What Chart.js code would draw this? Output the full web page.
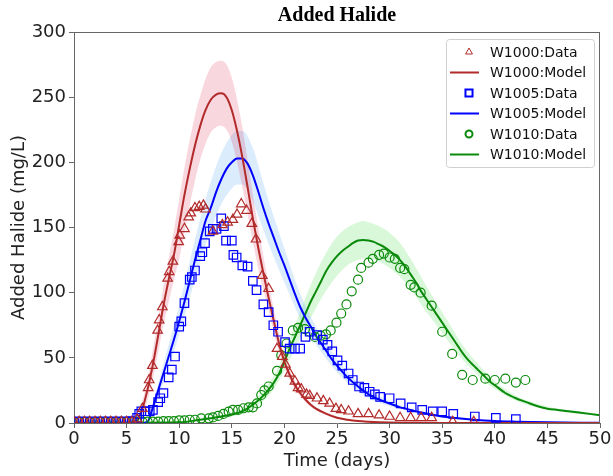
<!DOCTYPE html>
<html>
<head>
<meta charset="utf-8">
<title>Added Halide</title>
<script src="https://cdn.jsdelivr.net/npm/chart.js@4.4.1/dist/chart.umd.min.js"></script>
<style>
    html, body { margin: 0; padding: 0; background: #fff; }
    #wrap { width: 613px; height: 476px; }
</style>
</head>
<body>
<div id="wrap"><canvas id="halideChart" width="613" height="476"></canvas></div>
<script>
// axis ranges
const xMin = 0, xMax = 50, xStep = 5;
const yMin = 0, yMax = 300, yStep = 50;

// W1000 measured points
const w1000DataDays = [0, 0.5, 1, 1.5, 2, 2.5, 3, 3.5, 4, 4.5, 5, 5.5,
    6.0, 6.5, 7.05, 7.15, 7.45, 7.95, 8.1, 8.4, 8.9, 9.05,
    9.4, 9.95, 10.05, 10.5, 10.9, 11.1, 11.5, 11.9, 12.3, 12.5,
    13.2, 14.1, 14.6, 15.1, 15.5, 15.9, 16.4, 16.9, 17.3, 17.9,
    18.5, 19.3, 19.8, 20.1, 20.5, 21.0, 21.3, 21.6, 22.1, 22.4,
    23.1, 23.7, 24.3, 24.9, 25.4, 26.1, 27.0, 28.0, 29.0, 30.0,
    31, 32, 33, 34, 36, 38];
const w1000DataValues = [1, 1, 1, 1, 1, 1, 1, 1, 1, 1, 1, 1,
    3, 11, 27, 33, 44, 71, 79, 89, 111, 116,
    124, 139, 144, 149, 158, 161, 165, 166, 167, 164,
    147, 152, 154, 156, 160, 168, 163, 153, 141, 113,
    103, 57, 51, 45, 38, 32, 27, 26, 22, 21,
    19, 17, 15, 11, 10, 9, 7, 7, 6, 5,
    4, 4, 4, 4, 1, 1];

// W1000 model curve and its band
const w1000ModelDays = [0, 5, 5.5, 6, 6.5, 7, 7.5, 8, 8.5, 9, 9.5, 10, 10.5, 11, 11.5, 12, 12.5, 13, 13.5, 14,
    14.5, 15, 15.5, 16, 16.5, 17, 17.5, 18, 18.5, 19, 19.5, 20, 20.5, 21, 21.5, 22, 22.5, 23,
    24, 25, 26, 27, 28, 30, 32, 35, 40, 45, 50];
const w1000ModelValues = [0, 0, 0, 2, 11, 26, 45, 67, 90, 110, 129, 152, 175, 195, 213, 228, 240, 248, 252, 253,
    250, 240, 224, 204, 181, 157, 135, 115, 96, 78, 61, 47, 37, 29, 23, 18, 14, 11,
    7, 4, 2.5, 1.5, 1, 0.4, 0.2, 0, 0, 0, 0];
const w1000BandDays = [5.5, 6, 6.5, 7, 7.5, 8, 8.5, 9, 9.5, 10, 10.5, 11, 11.5, 12, 12.5, 13, 13.5, 14,
    14.5, 15, 15.5, 16, 16.5, 17, 17.5, 18, 18.5, 19, 19.5, 20, 21, 22, 23, 24, 26, 28, 32];
const w1000BandUpper = [0, 4, 17, 34, 56, 80, 104, 126, 148, 172, 196, 217, 236, 251, 264, 273, 277, 278,
    275, 265, 248, 227, 202, 175, 151, 128, 107, 87, 68, 52, 32, 20, 12, 8, 3, 1, 0.2];
const w1000BandLower = [0, 0, 6, 18, 34, 54, 75, 93, 110, 126, 147, 167, 186, 202, 214, 223, 227, 228,
    225, 216, 200, 181, 160, 139, 119, 102, 86, 69, 54, 42, 26, 16, 10, 6, 2, 1, 0.2];

// W1005 measured points
const w1005DataDays = [0, 0.5, 1, 1.5, 2, 2.5, 3, 3.5, 4, 4.5, 5, 5.5,
    6.0, 6.2, 6.4, 6.8, 7.2, 7.5, 8.0, 8.2, 8.5, 9.0,
    9.3, 9.6, 10.0, 10.2, 10.5, 11.0, 11.2, 11.5, 12.0, 12.2,
    12.45, 12.9, 13.2, 13.55, 14.0, 14.25, 14.45, 15.0, 15.15, 15.46,
    16.0, 16.5, 17.0, 17.35, 18.0, 18.5, 18.95, 19.4, 20.06, 20.5,
    21.0, 21.5, 22.0, 22.4, 23.1, 23.65, 24.1, 24.55, 25.05, 25.5,
    26.1, 26.5, 27.1, 27.6, 28.1, 28.6, 29.1, 30.0, 31.05, 32.1,
    33.1, 34.1, 35.0, 36.05, 38.1, 40.1, 42.0];
const w1005DataValues = [1, 1, 1, 1, 1, 1, 1, 1, 1, 1, 1, 1.5,
    4, 7, 9, 9, 9, 10, 16, 19, 23, 35,
    41, 51, 74, 78, 92, 110, 112, 117, 128, 131,
    138, 147, 149, 149, 157, 151, 140, 140, 129, 127,
    121, 120, 109, 102, 91, 85, 75, 70, 62, 57,
    57, 57, 66, 70, 67.5, 64, 60, 55, 48, 44,
    38, 33, 28, 27, 24, 22, 20, 19, 15, 12,
    10, 9, 9, 7, 5, 4, 3];

// W1005 model curve and its band
const w1005ModelDays = [0, 6.5, 7, 7.5, 8, 8.5, 9, 9.5, 10, 10.5, 11, 11.5, 12, 12.5, 13, 13.5, 14, 14.5, 15, 15.5,
    16, 16.5, 17, 17.5, 18, 18.5, 19, 19.5, 20, 20.5, 21, 21.5, 22, 22.5, 23, 23.5, 24, 24.5, 25,
    26, 27, 28, 29, 30, 31, 32, 33, 34, 35, 36, 38, 40, 42, 45, 50];
const w1005ModelValues = [0, 0, 1, 12, 25, 38, 51, 64, 78, 93, 109, 125, 140, 155, 165, 177, 187, 195, 200, 203,
    203, 199, 190, 178, 165, 153, 142, 131, 121, 110, 99, 89, 81, 74, 67, 61, 55, 49, 44,
    35, 28, 22, 18, 15, 12, 10, 8, 6.5, 5, 4, 2.5, 1.5, 1, 0.5, 0.2];
const w1005BandDays = [6.5, 7, 7.5, 8, 9, 10, 11, 12, 13, 14, 15, 15.5, 16, 17, 18, 19, 20, 21, 22, 23,
    24, 25, 26, 28, 30, 32, 35, 40, 45, 50];
const w1005BandUpper = [0, 3, 16, 30, 60, 90, 124, 157, 185, 207, 221, 224, 224, 211, 184, 158, 134, 110, 90, 74,
    61, 49, 39, 25, 17, 11, 6, 2, 1, 0.3];
const w1005BandLower = [0, 0, 8, 20, 42, 68, 96, 124, 148, 168, 180, 183, 183, 170, 148, 127, 108, 89, 72, 60,
    49, 39, 31, 19, 13, 9, 4, 1.3, 0.4, 0.1];

// W1010 measured points
const w1010DataDays = [0, 0.5, 1, 1.5, 2, 2.5, 3, 3.5, 4, 4.5, 5, 5.5,
    6, 6.5, 7, 7.5, 8, 8.5, 9, 9.5, 10, 10.5, 11, 11.5,
    12.1, 12.8, 13.2, 13.7, 14.2, 14.7, 15.1, 15.6, 16.1, 16.6,
    17.0, 17.4, 17.8, 18.1, 18.5, 19.3, 19.7, 20.2,
    20.8, 21.3, 21.95, 22.4, 22.9, 23.45, 23.95, 24.4, 24.95, 25.4,
    25.9, 26.4, 27.0, 27.3, 28.0, 28.4, 29.0, 29.45, 30.0, 30.5,
    31.0, 31.4, 32.0, 32.35, 32.95, 34.0, 35.0, 35.95, 36.9, 37.9,
    39.1, 40.0, 41.0, 42.0, 42.9];
const w1010DataValues = [1, 1, 1, 1, 1, 1, 1, 1, 1, 1, 1, 1,
    1, 1, 1, 1, 1, 1.5, 1.5, 1.5, 2, 2, 2.5, 2.5,
    3.6, 3.6, 4.3, 5.4, 7, 8.7, 10, 10, 11.3, 12,
    12, 15, 21.5, 25, 28, 40, 52, 61,
    71, 73, 72, 70, 66, 67, 68, 71, 77, 84,
    91, 101, 110, 119, 123, 126, 129, 130, 127, 126,
    119, 118, 106, 104, 100, 90, 70, 53, 37, 33,
    34, 33, 34, 31, 33];

// W1010 model curve and its band
const w1010ModelDays = [0, 10, 12, 14, 15, 16, 17, 18, 19, 19.5, 20, 20.5, 21, 21.5, 22, 22.5, 23, 23.5, 24, 24.5,
    25, 25.5, 26, 26.5, 27, 27.5, 28, 28.5, 29, 29.5, 30, 30.5, 31, 31.5, 32, 32.5, 33, 33.5, 34, 34.5,
    35, 35.5, 36, 36.5, 37, 37.5, 38, 38.5, 39, 39.5, 40, 41, 42, 43, 44, 45, 46, 47, 48, 49, 50];
const w1010ModelValues = [0, 0.5, 2.5, 5, 6.5, 9, 14, 21, 31, 38, 47, 57, 66, 75, 84, 93, 101, 109, 117, 123,
    128, 132, 135, 138, 140, 140.5, 140, 139, 137, 135, 132, 129, 125, 120, 114, 108, 101, 95, 89, 83,
    77, 71, 65, 59, 53, 48, 44, 40, 36, 32, 29, 23, 19, 16, 13, 11, 10, 9, 8, 7, 6];
const w1010BandDays = [10, 12, 14, 16, 17, 18, 19, 20, 21, 22, 23, 24, 25, 26, 27, 27.5, 28, 29, 30, 31,
    32, 33, 34, 35, 36, 37, 38, 39, 40, 42, 44, 46, 48, 50];
const w1010BandUpper = [0.6, 3, 6, 11, 17, 25, 36, 54, 75, 96, 115, 131, 143, 150, 154, 155, 154, 151, 146, 138,
    126, 112, 98, 85, 72, 59, 49, 40, 32, 21, 15, 11, 9, 7];
const w1010BandLower = [0.4, 2, 4, 7, 11, 17, 26, 40, 57, 73, 88, 102, 113, 121, 125, 126, 126, 124, 119, 112,
    103, 91, 80, 69, 58, 48, 40, 32, 26, 17, 12, 9, 7, 5.5];

const red = '#b22a2a';
const blue = '#0000ff';
const green = '#0a8a0a';
const axisColor = '#666666';

function toPoints(days, values) {
    return days.map((d, i) => ({ x: d, y: values[i] }));
}

function dataSet(label, days, values, color, style, radius) {
    return {
        type: 'scatter',
        label: label,
        data: toPoints(days, values),
        borderColor: color,
        backgroundColor: 'rgba(0,0,0,0)',
        pointStyle: style,
        pointRadius: radius,
        pointBorderWidth: 1.2,
        clip: 0,
        order: 0
    };
}

function modelSet(label, days, values, color) {
    return {
        type: 'line',
        label: label,
        data: toPoints(days, values),
        borderColor: color,
        borderWidth: 2,
        pointRadius: 0,
        fill: false,
        cubicInterpolationMode: 'monotone',
        clip: 0,
        order: 1
    };
}

// upper edge fills down to the lower edge (the dataset right after it)
function bandSets(label, days, upper, lower, fillColor) {
    const base = {
        type: 'line',
        borderWidth: 0,
        pointRadius: 0,
        cubicInterpolationMode: 'monotone',
        clip: 0,
        order: 2
    };
    return [
        Object.assign({}, base, { label: label + ' upper', data: toPoints(days, upper), fill: '+1', backgroundColor: fillColor }),
        Object.assign({}, base, { label: label + ' lower', data: toPoints(days, lower), fill: false })
    ];
}

const legendEntries = [
    { text: 'W1000:Data', color: red, style: 'triangle', radius: 4 },
    { text: 'W1000:Model', color: red },
    { text: 'W1005:Data', color: blue, style: 'rect', radius: 5 },
    { text: 'W1005:Model', color: blue },
    { text: 'W1010:Data', color: green, style: 'circle', radius: 3.5 },
    { text: 'W1010:Model', color: green }
];

// top/right frame, title and the boxed legend
const decorPlugin = {
    id: 'decor',
    afterDraw(chart) {
        const { ctx, chartArea: a } = chart;
        ctx.save();

        ctx.strokeStyle = axisColor;
        ctx.lineWidth = 1;
        ctx.beginPath();
        ctx.moveTo(a.left, a.top + 0.5);
        ctx.lineTo(a.right, a.top + 0.5);
        ctx.moveTo(a.right - 0.5, a.top);
        ctx.lineTo(a.right - 0.5, a.bottom);
        ctx.stroke();

        ctx.fillStyle = '#000';
        ctx.font = 'bold 20px "Liberation Serif", "Times New Roman", serif';
        ctx.textAlign = 'center';
        ctx.textBaseline = 'middle';
        ctx.fillText('Added Halide', (a.left + a.right) / 2, 16);

        const boxW = 148, boxH = 128;
        const bx = a.right - 6 - boxW, by = a.top + 7;
        ctx.fillStyle = 'rgba(255,255,255,0.85)';
        ctx.strokeStyle = '#d0d0d0';
        ctx.beginPath();
        ctx.roundRect(bx + 0.5, by + 0.5, boxW, boxH, 3);
        ctx.fill();
        ctx.stroke();

        ctx.font = '14px "DejaVu Sans"';
        ctx.textAlign = 'left';
        ctx.textBaseline = 'middle';
        legendEntries.forEach((e, i) => {
            const y = by + 13 + i * 20.5;
            const mx = bx + 23;
            if (e.style) {
                ctx.strokeStyle = e.color;
                ctx.fillStyle = 'rgba(0,0,0,0)';
                Chart.helpers.drawPoint(ctx, { pointStyle: e.style, radius: e.radius, borderWidth: 1.2, rotation: 0 }, mx, y);
            } else {
                ctx.strokeStyle = e.color;
                ctx.lineWidth = 2;
                ctx.beginPath();
                ctx.moveTo(bx + 4, y);
                ctx.lineTo(bx + 33, y);
                ctx.stroke();
            }
            ctx.fillStyle = '#111';
            ctx.fillText(e.text, bx + 44, y + 1);
        });

        ctx.restore();
    }
};

function initializeChart() {
    const ctx = document.getElementById('halideChart').getContext('2d');
    Chart.defaults.font.family = '"DejaVu Sans"';
    Chart.defaults.color = '#222';

    const datasets = [
        dataSet('W1000:Data', w1000DataDays, w1000DataValues, red, 'triangle', 5.5),
        dataSet('W1005:Data', w1005DataDays, w1005DataValues, blue, 'rect', 6),
        dataSet('W1010:Data', w1010DataDays, w1010DataValues, green, 'circle', 4.5),
        modelSet('W1000:Model', w1000ModelDays, w1000ModelValues, red),
        modelSet('W1005:Model', w1005ModelDays, w1005ModelValues, blue),
        modelSet('W1010:Model', w1010ModelDays, w1010ModelValues, green),
        ...bandSets('W1000', w1000BandDays, w1000BandUpper, w1000BandLower, 'rgba(220,20,60,0.17)'),
        ...bandSets('W1005', w1005BandDays, w1005BandUpper, w1005BandLower, 'rgba(110,180,245,0.25)'),
        ...bandSets('W1010', w1010BandDays, w1010BandUpper, w1010BandLower, 'rgba(130,230,130,0.3)')
    ];

    const config = {
        type: 'scatter',
        data: { datasets: datasets },
        options: {
            responsive: false,
            animation: false,
            layout: {
                padding: { left: 0, right: 13, top: 32, bottom: 0 }
            },
            plugins: {
                legend: { display: false },
                tooltip: { enabled: false }
            },
            scales: {
                x: {
                    type: 'linear',
                    min: xMin,
                    max: xMax,
                    afterFit: (scale) => { scale.height = 53; },
                    border: { color: axisColor, width: 1 },
                    grid: { drawOnChartArea: false, drawTicks: true, tickLength: 5, tickColor: axisColor },
                    ticks: { stepSize: xStep, autoSkip: false, maxRotation: 0, padding: 1, font: { size: 18 }, color: '#222' },
                    title: { display: true, text: 'Time (days)', font: { size: 18 }, color: '#222', padding: { top: 0, bottom: 4 } }
                },
                y: {
                    min: yMin,
                    max: yMax,
                    afterFit: (scale) => { scale.width = 74; },
                    border: { color: axisColor, width: 1 },
                    grid: { drawOnChartArea: false, drawTicks: true, tickLength: 5, tickColor: axisColor },
                    ticks: { stepSize: yStep, padding: 3, font: { size: 18 }, color: '#222' },
                    title: { display: true, text: 'Added Halide (mg/L)', font: { size: 18 }, color: '#222', padding: { top: 9, bottom: 0 } }
                }
            }
        },
        plugins: [decorPlugin]
    };

    new Chart(ctx, config);
}

document.addEventListener('DOMContentLoaded', initializeChart);
</script>
</body>
</html>
